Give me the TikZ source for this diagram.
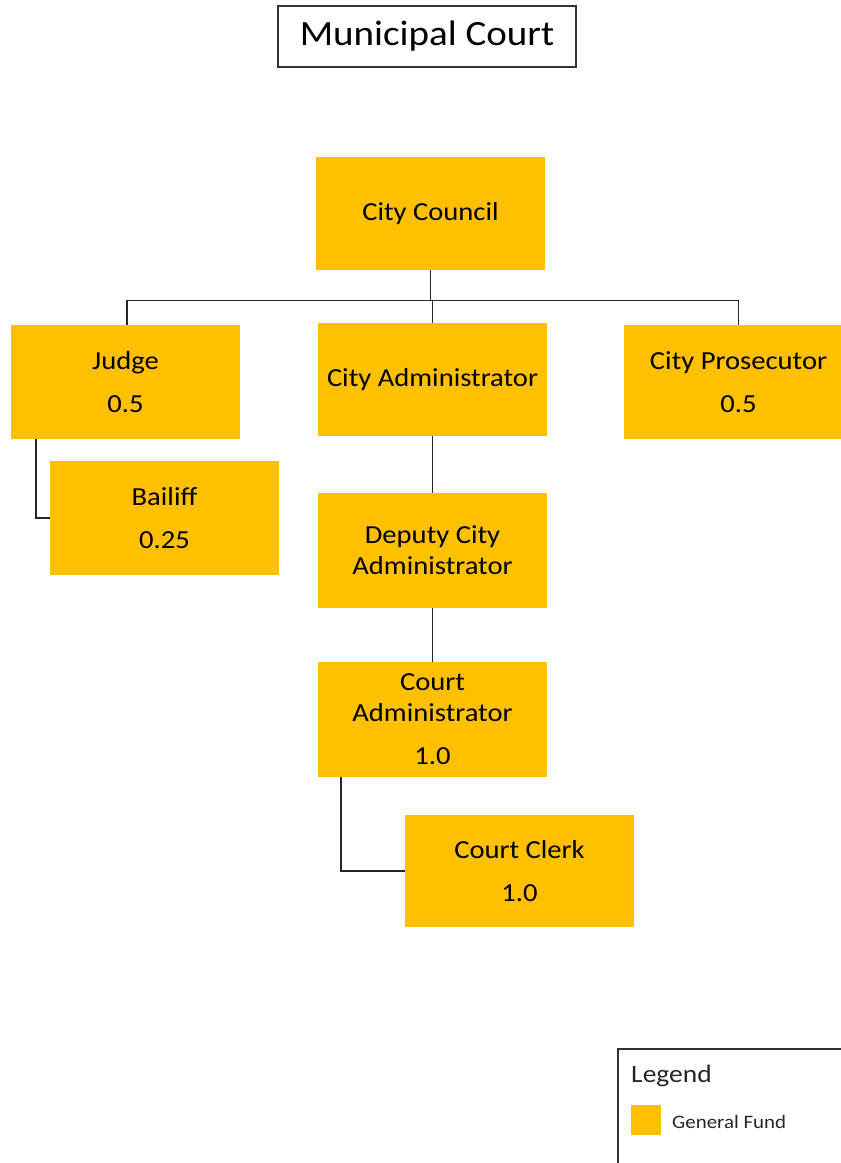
\documentclass[tikz,border=0pt]{standalone}
\usepackage{fontspec}
\setmainfont{Carlito}[FakeStretch=1.1]
\definecolor{fundgold}{HTML}{FFC000}
\begin{document}
\begin{tikzpicture}[x=1pt,y=-1pt,
  posbox/.style={fill=fundgold, minimum width=229pt, minimum height=114pt,
    inner sep=0pt, align=center, font=\fontsize{26}{31}\selectfont},
  link/.style={draw=black!85, line width=1.4pt},
  frame/.style={draw=black!80, line width=1.2pt}]
\useasboundingbox (0,0) rectangle (841,1163);
\clip (0,0) rectangle (841,1163);

% title
\node[frame, minimum width=298pt, minimum height=61pt, inner sep=0pt,
  font=\fontsize{35.5}{40}\selectfont] (title) at (427,36.5) {Municipal Court};

% positions
\node[posbox, minimum height=113pt] (council) at (430.5,213.5) {City Council};
\node[posbox] (judge) at (125.5,382) {Judge\\[12pt]0.5};
\node[posbox, minimum height=113pt] (admin) at (432.5,379.5) {City Administrator};
\node[posbox] (pros) at (738.5,382) {City Prosecutor\\[12pt]0.5};
\node[posbox] (bailiff) at (164.5,518) {Bailiff\\[12pt]0.25};
\node[posbox, minimum height=115pt] (deputy) at (432.5,550.5) {Deputy City\\Administrator};
\node[posbox, minimum height=115pt] (courtadm) at (432.5,719.5) {Court\\Administrator\\[12pt]1.0};
\node[posbox, minimum height=112pt] (clerk) at (519.5,871) {Court Clerk\\[12pt]1.0};

% reporting lines
\draw[link] (council.south) -- ++(0,30) coordinate (bus);
\draw[link] ([xshift=1.5pt]judge.north) |- (bus) -| (pros.north);
\draw[link] (admin.north) -- (admin.north |- bus);
\draw[link] (admin.south) -- (deputy.north);
\draw[link] (deputy.south) -- (courtadm.north);
\draw[link] ([xshift=-89.5pt]judge.south) |- (bailiff.west);
\draw[link] ([xshift=-91.5pt]courtadm.south) |- (clerk.west);

% legend
\draw[frame] (618,1180) -- (618,1049) -- (860,1049);
\node[anchor=west, inner sep=0pt, font=\fontsize{25}{30}\selectfont, text=black!85] (legtitle) at (631,1076) {Legend};
\node[fill=fundgold, minimum width=30pt, minimum height=30pt, inner sep=0pt] (swatch) at (646,1120) {};
\node[anchor=west, inner sep=0pt, font=\fontsize{19}{23}\selectfont, text=black!85] (legtext) at (672,1122) {General Fund};
\end{tikzpicture}
\end{document}
